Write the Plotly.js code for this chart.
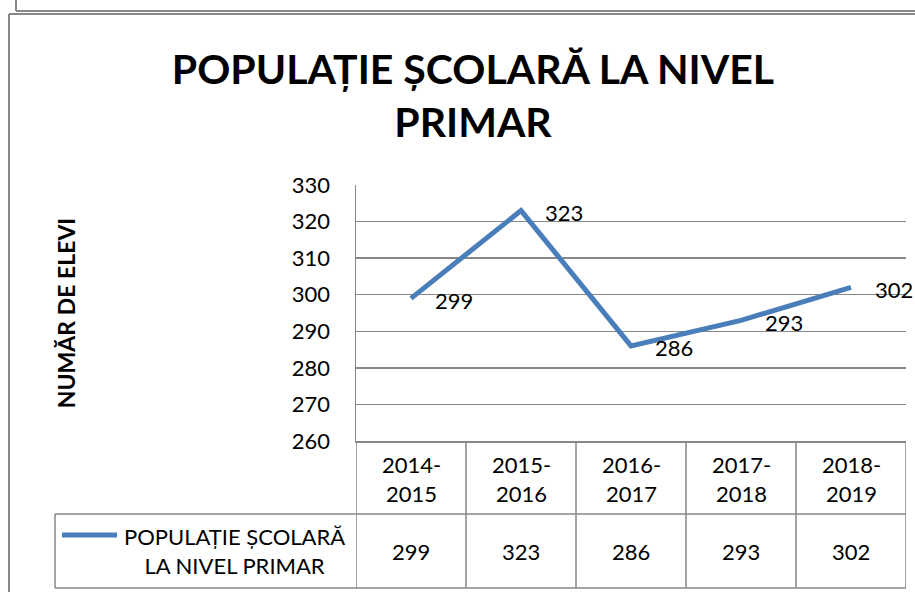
<!DOCTYPE html>
<html>
<head>
<meta charset="utf-8">
<script src="https://cdn.plot.ly/plotly-3.0.1.min.js"></script>
<style>html,body{margin:0;padding:0;background:#fff;}#chart{width:915px;height:592px;}</style>
</head>
<body>
<div id="chart"></div>
<script>
// ---- data ----
const categories = ['2014-2015', '2015-2016', '2016-2017', '2017-2018', '2018-2019'];
const categoryLabels = ['2014-<br>2015', '2015-<br>2016', '2016-<br>2017', '2017-<br>2018', '2018-<br>2019'];
const values = [299, 323, 286, 293, 302];
const seriesName = 'POPULAȚIE ȘCOLARĂ LA NIVEL PRIMAR';
const legendLabel = 'POPULAȚIE ȘCOLARĂ<br>LA NIVEL PRIMAR';
const yTicks = [260, 270, 280, 290, 300, 310, 320, 330];
const chartTitle = 'POPULAȚIE ȘCOLARĂ LA NIVEL<br>PRIMAR';
const yTitle = 'NUMĂR DE ELEVI';

// ---- geometry (pixels) ----
const W = 915, H = 592;
const L = 356, R = 906, T = 185, B = 441;
const PW = R - L, PH = B - T;
const px = p => (p - L) / PW;
const py = p => (B - p) / PH;
const GRID = '#878787';
const BLUE = '#4A7EBB';
const FONT = 'Lato, "Open Sans", sans-serif';

const shapes = [];
function hline(y, x0, x1, w) {
  shapes.push({type: 'line', xref: 'paper', yref: 'paper', x0: px(x0), x1: px(x1), y0: py(y), y1: py(y), line: {color: GRID, width: w || 1.5}});
}
function vline(x, y0, y1, w) {
  shapes.push({type: 'line', xref: 'paper', yref: 'paper', x0: px(x), x1: px(x), y0: py(y0), y1: py(y1), line: {color: GRID, width: w || 1.5}});
}
// outer frames
vline(16, 0, 11, 2); hline(11, 16, 915, 2);
vline(9, 14, 592, 2); hline(14, 9, 915, 2);
// data table
hline(514, 55, R); hline(588, 55, R);
vline(55, 514, 588);
for (let i = 0; i <= categories.length; i++) {
  shapes.push({type: 'line', xref: 'x', yref: 'paper', x0: i - 0.5, x1: i - 0.5, y0: 0, y1: py(588), line: {color: GRID, width: 1.5}});
}
// legend key line
shapes.push({type: 'line', xref: 'paper', yref: 'paper', x0: px(62), x1: px(117), y0: py(535), y1: py(535), line: {color: BLUE, width: 5}});

const annotations = [];
categories.forEach((c, i) => {
  annotations.push({xref: 'x', yref: 'paper', x: i, y: py(479), text: categoryLabels[i], showarrow: false, xanchor: 'center', yanchor: 'middle', font: {size: 22, color: '#000', family: FONT}});
  annotations.push({xref: 'x', yref: 'paper', x: i, y: py(551), text: String(values[i]), showarrow: false, xanchor: 'center', yanchor: 'middle', font: {size: 22, color: '#000', family: FONT}});
  annotations.push({xref: 'x', yref: 'y', x: i, y: values[i], text: String(values[i]), showarrow: false, xanchor: 'left', yanchor: 'middle', xshift: 22, yshift: -2, font: {size: 22, color: '#000', family: FONT}});
});
annotations.push({xref: 'paper', yref: 'paper', x: px(234), y: py(551), text: legendLabel, showarrow: false, xanchor: 'center', yanchor: 'middle', align: 'center', font: {size: 22, color: '#000', family: FONT}});

const trace = {
  type: 'scatter', mode: 'lines', name: seriesName,
  x: categories, y: values,
  line: {color: BLUE, width: 5}, hoverinfo: 'x+y'
};

const layout = {
  width: W, height: H,
  margin: {l: L, r: W - R, t: T, b: H - B, pad: 0},
  paper_bgcolor: '#fff', plot_bgcolor: '#fff',
  showlegend: false,
  font: {family: FONT, color: '#000'},
  title: {text: '<b>' + chartTitle + '</b>', xref: 'container', yref: 'container', x: 473 / W, y: 1 - 84 / H, xanchor: 'center', yanchor: 'middle', font: {size: 41, color: '#000', family: FONT}},
  xaxis: {type: 'category', range: [-0.5, categories.length - 0.5], showticklabels: false, ticks: '', showgrid: false, zeroline: false, showline: true, linecolor: GRID, linewidth: 1.5, fixedrange: true},
  yaxis: {range: [260, 330], tickvals: yTicks, ticktext: yTicks.map(String), ticks: '', ticklabelstandoff: 20, tickfont: {size: 22, color: '#000', family: FONT}, showgrid: true, gridcolor: GRID, gridwidth: 1.5, zeroline: false, showline: true, linecolor: GRID, linewidth: 1.5, fixedrange: true,
    title: {text: '<b>' + yTitle + '</b>', standoff: 210, font: {size: 23, color: '#000', family: FONT}}},
  shapes: shapes,
  annotations: annotations
};

Plotly.newPlot('chart', [trace], layout, {displayModeBar: false, staticPlot: true});
</script>
</body>
</html>
